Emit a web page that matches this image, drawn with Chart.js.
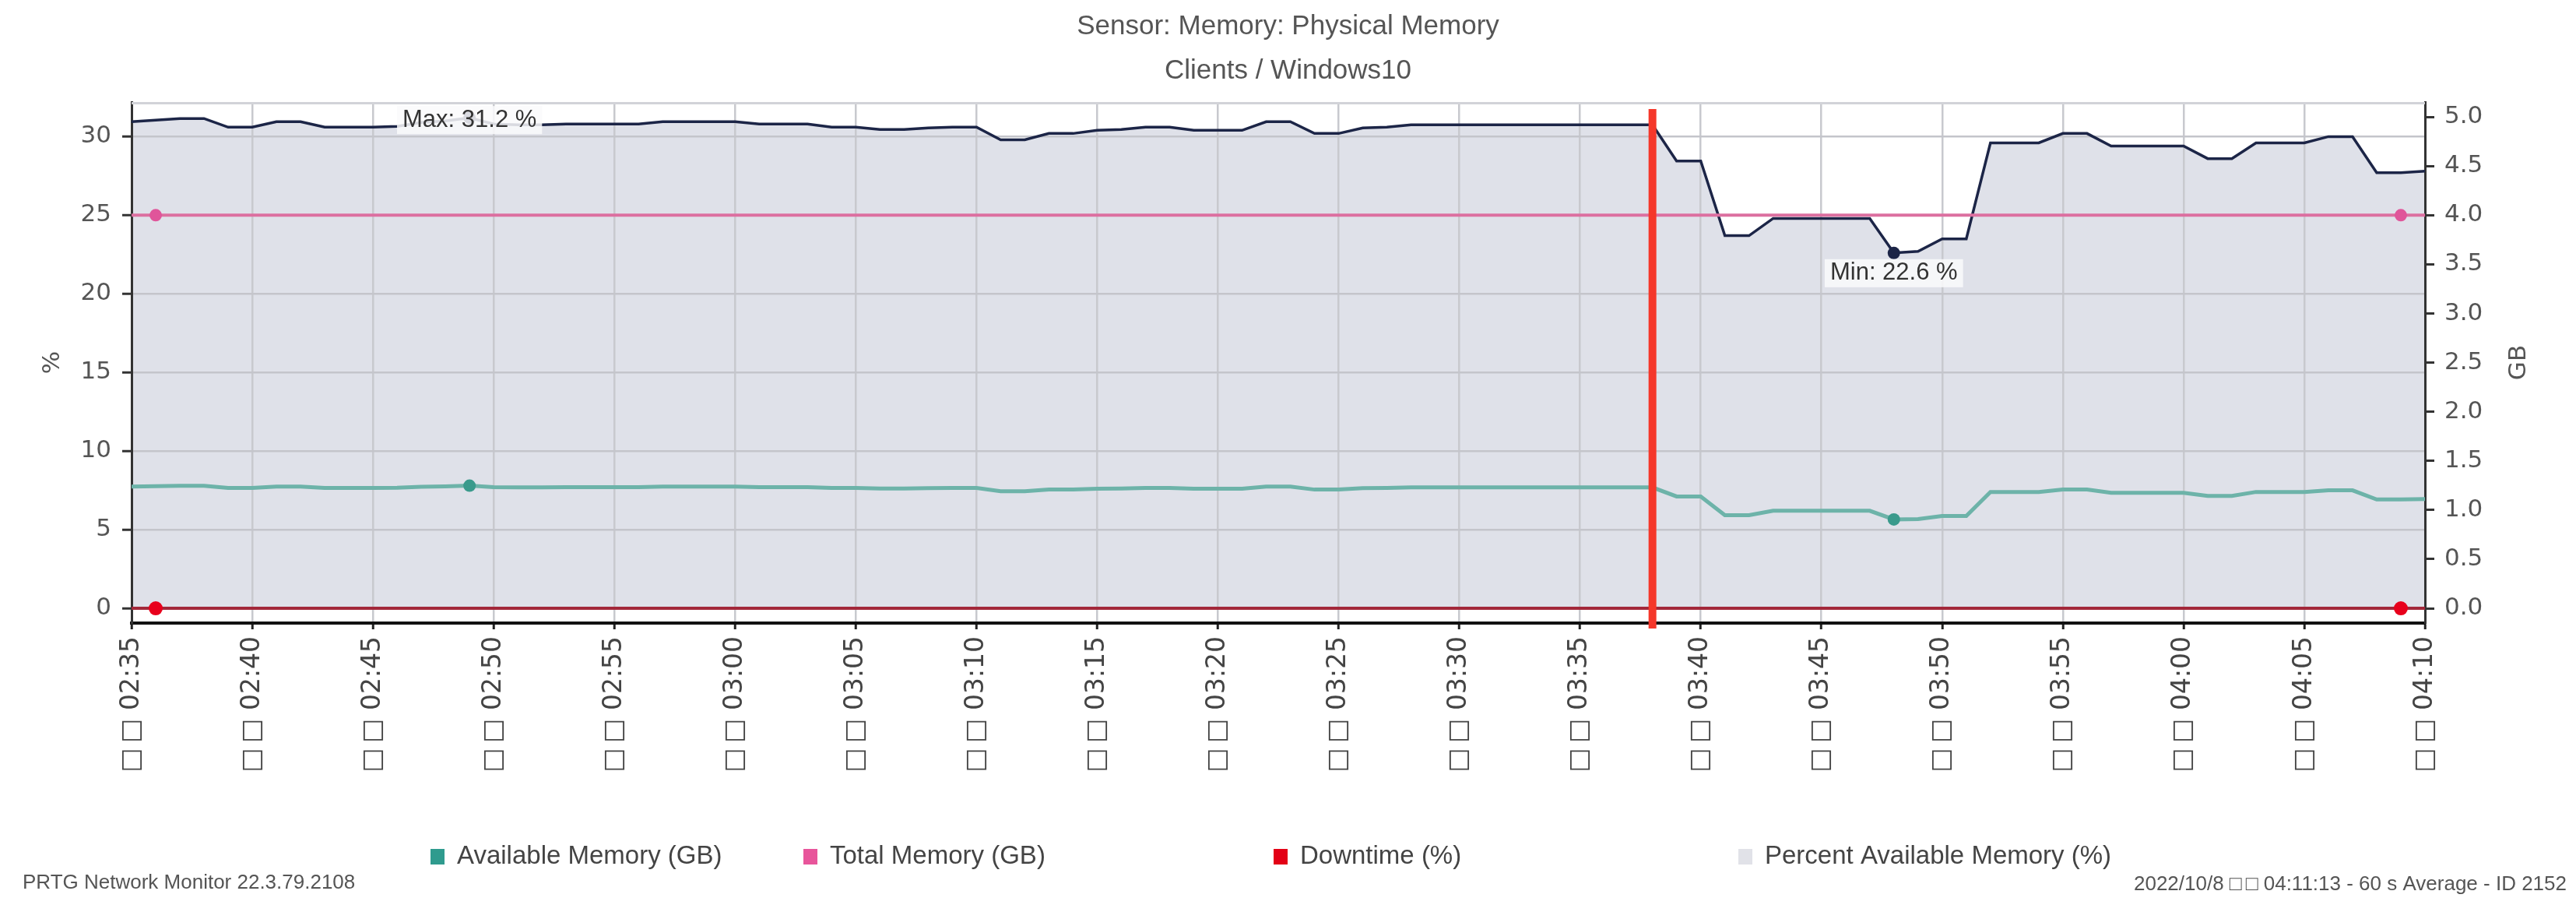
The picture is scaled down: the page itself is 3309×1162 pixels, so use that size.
<!DOCTYPE html>
<html>
<head>
<meta charset="utf-8">
<title>Sensor: Memory: Physical Memory</title>
<script src="https://cdn.jsdelivr.net/npm/chart.js@4.4.0/dist/chart.umd.min.js"></script>
<style>
    html, body { margin: 0; padding: 0; background: #ffffff; }
    #memoryChart { display: block; }
</style>
</head>
<body>
<canvas id="memoryChart" width="3309" height="1162"></canvas>
<script>
// Sampling: one value per minute (60 s average)
const startTime = '02:35';
const sampleCount = 96;

// Labelled ticks on the time axis
const tickLabels = [
    '02:35', '02:40', '02:45', '02:50', '02:55', '03:00', '03:05', '03:10', '03:15', '03:20',
    '03:25', '03:30', '03:35', '03:40', '03:45', '03:50', '03:55', '04:00', '04:05', '04:10'
];

// Percent Available Memory (%)
const percentAvailable = [
    30.95, 31.05, 31.15, 31.15, 30.6, 30.6, 30.95, 30.95, 30.6, 30.6,
    30.6, 30.65, 30.9, 31.0, 31.2, 30.8, 30.75, 30.75, 30.8, 30.8,
    30.8, 30.8, 30.95, 30.95, 30.95, 30.95, 30.8, 30.8, 30.8, 30.6,
    30.6, 30.45, 30.45, 30.55, 30.6, 30.6, 29.8, 29.8, 30.2, 30.2,
    30.4, 30.45, 30.6, 30.6, 30.4, 30.4, 30.4, 30.95, 30.95, 30.2,
    30.2, 30.55, 30.6, 30.75, 30.75, 30.75, 30.75, 30.75, 30.75, 30.75,
    30.75, 30.75, 30.75, 30.75, 28.45, 28.45, 23.7, 23.7, 24.8, 24.8,
    24.8, 24.8, 24.8, 22.6, 22.7, 23.5, 23.5, 29.6, 29.6, 29.6,
    30.2, 30.2, 29.4, 29.4, 29.4, 29.4, 28.6, 28.6, 29.6, 29.6,
    29.6, 30.0, 30.0, 27.7, 27.7, 27.8
];

// Available Memory (GB)
const availableGB = [
    1.238, 1.242, 1.246, 1.246, 1.224, 1.224, 1.238, 1.238, 1.224, 1.224,
    1.224, 1.226, 1.236, 1.240, 1.248, 1.232, 1.230, 1.230, 1.232, 1.232,
    1.232, 1.232, 1.238, 1.238, 1.238, 1.238, 1.232, 1.232, 1.232, 1.224,
    1.224, 1.218, 1.218, 1.222, 1.224, 1.224, 1.192, 1.192, 1.208, 1.208,
    1.216, 1.218, 1.224, 1.224, 1.216, 1.216, 1.216, 1.238, 1.238, 1.208,
    1.208, 1.222, 1.224, 1.230, 1.230, 1.230, 1.230, 1.230, 1.230, 1.230,
    1.230, 1.230, 1.230, 1.230, 1.138, 1.138, 0.948, 0.948, 0.992, 0.992,
    0.992, 0.992, 0.992, 0.904, 0.908, 0.940, 0.940, 1.184, 1.184, 1.184,
    1.208, 1.208, 1.176, 1.176, 1.176, 1.176, 1.144, 1.144, 1.184, 1.184,
    1.184, 1.200, 1.200, 1.108, 1.108, 1.112
];

// Total Memory (GB)
const totalGB = [
    4, 4, 4, 4, 4, 4, 4, 4, 4, 4, 4, 4, 4, 4, 4, 4, 4, 4, 4, 4,
    4, 4, 4, 4, 4, 4, 4, 4, 4, 4, 4, 4, 4, 4, 4, 4, 4, 4, 4, 4,
    4, 4, 4, 4, 4, 4, 4, 4, 4, 4, 4, 4, 4, 4, 4, 4, 4, 4, 4, 4,
    4, 4, 4, 4, 4, 4, 4, 4, 4, 4, 4, 4, 4, 4, 4, 4, 4, 4, 4, 4,
    4, 4, 4, 4, 4, 4, 4, 4, 4, 4, 4, 4, 4, 4, 4, 4
];

// Downtime (%)
const downtimePct = [
    0, 0, 0, 0, 0, 0, 0, 0, 0, 0, 0, 0, 0, 0, 0, 0, 0, 0, 0, 0,
    0, 0, 0, 0, 0, 0, 0, 0, 0, 0, 0, 0, 0, 0, 0, 0, 0, 0, 0, 0,
    0, 0, 0, 0, 0, 0, 0, 0, 0, 0, 0, 0, 0, 0, 0, 0, 0, 0, 0, 0,
    0, 0, 0, 0, 0, 0, 0, 0, 0, 0, 0, 0, 0, 0, 0, 0, 0, 0, 0, 0,
    0, 0, 0, 0, 0, 0, 0, 0, 0, 0, 0, 0, 0, 0, 0, 0
];

// Samples that carry a min / max marker
const percentMarks = [14, 73];
const availableMarks = [14, 73];
const totalMarks = [1, 94];
const downtimeMarks = [1, 94];

// Min / max annotations on the percent series
const extremeLabels = [
    { index: 14, text: 'Max: 31.2 %' },
    { index: 73, text: 'Min: 22.6 %' }
];
const extremeOffsets = [3, 26];

// Time of the red event marker
const eventTime = '03:38';

const boxes = '\u25A1\u2009\u25A1';
const legendItems = [
    { text: 'Available Memory (GB)', color: '#2f9b8e' },
    { text: 'Total Memory (GB)', color: '#e8559b' },
    { text: 'Downtime (%)', color: '#e30016' },
    { text: 'Percent Available Memory (%)', color: '#e1e2e8' }
];
const legendX = [553, 1032, 1636, 2233];

const uiFont = '"Liberation Sans", Arial, sans-serif';
const tickFont = '"DejaVu Sans", Verdana, sans-serif';

let memoryChart = null;

// Build the per-minute category labels
function buildMinuteLabels(start, count) {
    const parts = start.split(':').map(Number);
    const labels = [];
    for (let i = 0; i < count; i++) {
        const t = parts[0] * 60 + parts[1] + i;
        labels.push(String(Math.floor(t / 60)).padStart(2, '0') + ':' + String(t % 60).padStart(2, '0'));
    }
    return labels;
}

const minuteLabels = buildMinuteLabels(startTime, sampleCount);

function markRadius(marks, r) {
    return function(context) {
        return marks.includes(context.dataIndex) ? r : 0;
    };
}

// Title, axis titles, legend, footer, event line and min/max labels
const prtgDecor = {
    id: 'prtgDecor',
    afterDatasetsDraw(chart) {
        const { ctx, chartArea, scales } = chart;
        ctx.save();

        // top frame of the plot
        ctx.strokeStyle = '#d2d3d8';
        ctx.lineWidth = 3;
        ctx.beginPath();
        ctx.moveTo(chartArea.left, chartArea.top + 1.5);
        ctx.lineTo(chartArea.right, chartArea.top + 1.5);
        ctx.stroke();

        // red event line
        const ex = scales.x.getPixelForValue(minuteLabels.indexOf(eventTime));
        ctx.strokeStyle = '#f5372a';
        ctx.lineWidth = 10;
        ctx.beginPath();
        ctx.moveTo(ex, chartArea.top + 9);
        ctx.lineTo(ex, chartArea.bottom + 7);
        ctx.stroke();

        // min / max labels
        ctx.font = '31px ' + uiFont;
        ctx.textAlign = 'center';
        ctx.textBaseline = 'middle';
        extremeLabels.forEach(function(label, i) {
            const px = scales.x.getPixelForValue(label.index);
            const py = scales.y.getPixelForValue(percentAvailable[label.index]) + extremeOffsets[i];
            const w = ctx.measureText(label.text).width + 14;
            ctx.fillStyle = 'rgba(250, 250, 252, 0.85)';
            ctx.fillRect(px - w / 2, py - 18, w, 36);
            ctx.fillStyle = '#333333';
            ctx.fillText(label.text, px, py);
        });
        ctx.restore();
    },
    afterDraw(chart) {
        const { ctx, chartArea, width } = chart;
        const midY = (chartArea.top + chartArea.bottom) / 2;
        ctx.save();

        // title
        ctx.fillStyle = '#555555';
        ctx.textAlign = 'center';
        ctx.textBaseline = 'middle';
        ctx.font = '35px ' + uiFont;
        ctx.fillText('Sensor: Memory: Physical Memory', width / 2, 34);
        ctx.fillText('Clients / Windows10', width / 2, 91);

        // axis titles
        ctx.font = '31px ' + tickFont;
        ctx.save();
        ctx.translate(chartArea.left - 101, midY);
        ctx.rotate(-Math.PI / 2);
        ctx.fillText('%', 0, 0);
        ctx.restore();
        ctx.save();
        ctx.translate(chartArea.right + 121, midY);
        ctx.rotate(-Math.PI / 2);
        ctx.fillText('GB', 0, 0);
        ctx.restore();

        // legend
        ctx.font = '33px ' + uiFont;
        ctx.textAlign = 'left';
        legendItems.forEach(function(item, i) {
            ctx.fillStyle = item.color;
            ctx.fillRect(legendX[i], 1090, 18, 20);
            ctx.fillStyle = '#444444';
            ctx.fillText(item.text, legendX[i] + 34, 1100);
        });

        // footer
        ctx.font = '26px ' + uiFont;
        ctx.fillStyle = '#555555';
        ctx.fillText('PRTG Network Monitor 22.3.79.2108', 29, 1134);
        ctx.textAlign = 'right';
        ctx.fillText('2022/10/8 ' + boxes + ' 04:11:13 - 60 s Average - ID 2152', 3297, 1136);
        ctx.restore();
    }
};

function isLabelled(context) {
    return context.tick && context.tick.label ? true : false;
}

function initializeChart() {
    const ctx = document.getElementById('memoryChart');
    if (!ctx) return;

    memoryChart = new Chart(ctx, {
        type: 'line',
        data: {
            labels: minuteLabels,
            datasets: [
                {
                    label: 'Downtime (%)',
                    data: downtimePct,
                    yAxisID: 'y',
                    borderColor: '#a3283a',
                    borderWidth: 4,
                    pointRadius: markRadius(downtimeMarks, 9),
                    pointBackgroundColor: '#e8001c',
                    pointBorderWidth: 0,
                    order: 1
                },
                {
                    label: 'Available Memory (GB)',
                    data: availableGB,
                    yAxisID: 'y1',
                    borderColor: '#6db3a9',
                    borderWidth: 5,
                    pointRadius: markRadius(availableMarks, 8),
                    pointBackgroundColor: '#3a9a8c',
                    pointBorderWidth: 0,
                    order: 2
                },
                {
                    label: 'Total Memory (GB)',
                    data: totalGB,
                    yAxisID: 'y1',
                    borderColor: '#dc6fa0',
                    borderWidth: 4,
                    pointRadius: markRadius(totalMarks, 8),
                    pointBackgroundColor: '#e0559a',
                    pointBorderWidth: 0,
                    order: 3
                },
                {
                    label: 'Percent Available Memory (%)',
                    data: percentAvailable,
                    yAxisID: 'y',
                    borderColor: '#1c2547',
                    borderWidth: 3.5,
                    backgroundColor: '#dfe1e9',
                    fill: 'origin',
                    pointRadius: markRadius(percentMarks, 8),
                    pointBackgroundColor: '#1c2547',
                    pointBorderWidth: 0,
                    order: 4
                }
            ]
        },
        options: {
            responsive: false,
            devicePixelRatio: 1,
            animation: false,
            layout: {
                padding: { top: 131, left: 0, right: 0, bottom: 0 }
            },
            elements: {
                line: { tension: 0 }
            },
            plugins: {
                legend: { display: false },
                title: { display: false },
                tooltip: { enabled: false },
                filler: { drawTime: 'beforeDraw' }
            },
            scales: {
                x: {
                    type: 'category',
                    offset: false,
                    afterFit: function(scale) { scale.height = 362; },
                    border: { color: '#111111', width: 4 },
                    grid: {
                        color: function(c) { return isLabelled(c) ? '#c8c9ce' : 'rgba(0,0,0,0)'; },
                        tickColor: function(c) { return isLabelled(c) ? '#222222' : 'rgba(0,0,0,0)'; },
                        lineWidth: 2.5,
                        tickWidth: 3,
                        tickLength: 8
                    },
                    ticks: {
                        autoSkip: false,
                        minRotation: 90,
                        maxRotation: 90,
                        padding: 9,
                        color: '#444444',
                        font: { family: tickFont, size: 33 },
                        callback: function(value) {
                            const label = this.getLabelForValue(value);
                            return tickLabels.includes(label) ? boxes + ' ' + label : null;
                        }
                    }
                },
                y: {
                    position: 'left',
                    min: -0.94,
                    max: 32.2,
                    afterFit: function(scale) { scale.width = 169; },
                    border: { color: '#333333', width: 3 },
                    grid: {
                        color: '#c4c5cb',
                        lineWidth: 2.5,
                        tickColor: '#333333',
                        tickWidth: 3,
                        tickLength: 12
                    },
                    ticks: {
                        stepSize: 5,
                        includeBounds: false,
                        padding: 14,
                        color: '#555555',
                        font: { family: tickFont, size: 31 }
                    }
                },
                y1: {
                    position: 'right',
                    min: -0.1504,
                    max: 5.152,
                    afterFit: function(scale) { scale.width = 194; },
                    border: { color: '#333333', width: 3 },
                    grid: {
                        drawOnChartArea: false,
                        tickColor: '#333333',
                        tickWidth: 3,
                        tickLength: 12
                    },
                    ticks: {
                        stepSize: 0.5,
                        includeBounds: false,
                        padding: 13,
                        color: '#555555',
                        font: { family: tickFont, size: 31 },
                        callback: function(value) {
                            return value.toFixed(1);
                        }
                    }
                }
            }
        },
        plugins: [prtgDecor]
    });
}

document.addEventListener('DOMContentLoaded', function() {
    if (typeof Chart !== 'undefined') {
        initializeChart();
    }
});
</script>
</body>
</html>
